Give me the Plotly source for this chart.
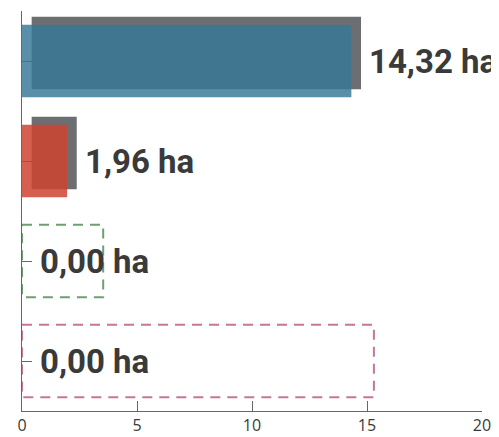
import plotly.graph_objects as go

# ---- data ----
categories = ["A", "B", "C", "D"]
values = [14.32, 1.96, 0.0, 0.0]
bar_colors = ["rgba(57,120,151,0.83)", "rgba(207,68,48,0.85)", "rgba(0,0,0,0)", "rgba(0,0,0,0)"]
outline_values = [None, None, 3.53, 15.3]
outline_colors = [None, None, "#6f9e73", "#c7769a"]
x_ticks = [0, 5, 10, 15, 20]

# ---- styles ----
BAR_W = 0.725
SHADOW_DX = 0.42
SHADOW_DY = 0.08
idx = list(range(len(categories)))

fig = go.Figure()

# shadows
fig.add_trace(go.Bar(
    orientation="h", x=values, base=SHADOW_DX, y=[i - SHADOW_DY for i in idx],
    width=BAR_W, marker=dict(color="#6d6e72", line=dict(width=0)),
    hoverinfo="skip", showlegend=False,
))
# main bars
fig.add_trace(go.Bar(
    orientation="h", x=values, y=idx, width=BAR_W,
    marker=dict(color=bar_colors, line=dict(width=0)),
    showlegend=False,
))
# dashed outlines for empty categories
h = BAR_W / 2
for i, (v, c) in enumerate(zip(outline_values, outline_colors)):
    if v is None:
        continue
    fig.add_trace(go.Scatter(
        x=[0, v, v, 0, 0], y=[i - h, i - h, i + h, i + h, i - h],
        mode="lines", line=dict(color=c, width=2, dash="10px,7px"),
        hoverinfo="skip", showlegend=False, cliponaxis=False,
    ))

# value labels
for i, v in enumerate(values):
    fig.add_annotation(
        x=v, y=i, xref="x", yref="y", text=f"{v:.2f}".replace(".", ",") + " ha",
        showarrow=False, xanchor="left", yanchor="middle", xshift=16,
        font=dict(family="Roboto, DejaVu Sans Condensed, sans-serif",
                  size=33, color="#3a3a3a", weight="bold"),
    )

# page body has an 8px default margin, so the figure is sized/offset to compensate
fig.update_layout(
    width=491, height=429,
    margin=dict(l=14, r=17, t=3, b=26, autoexpand=False),
    paper_bgcolor="white", plot_bgcolor="white",
    barmode="overlay",
    xaxis=dict(range=[0, 20], tickvals=x_ticks, ticks="inside", ticklen=10,
               tickcolor="#666", showline=True, linecolor="#666", linewidth=1,
               showgrid=False, zeroline=False, automargin=False,
               tickfont=dict(family="Open Sans, sans-serif", size=16, color="#3a3a3a")),
    yaxis=dict(range=[3.5, -0.5], tickvals=idx, ticks="inside", ticklen=10,
               tickcolor="#666", showline=True, linecolor="#666", linewidth=1,
               showgrid=False, zeroline=False, showticklabels=False, automargin=False),
)

fig.write_html("out.html")
